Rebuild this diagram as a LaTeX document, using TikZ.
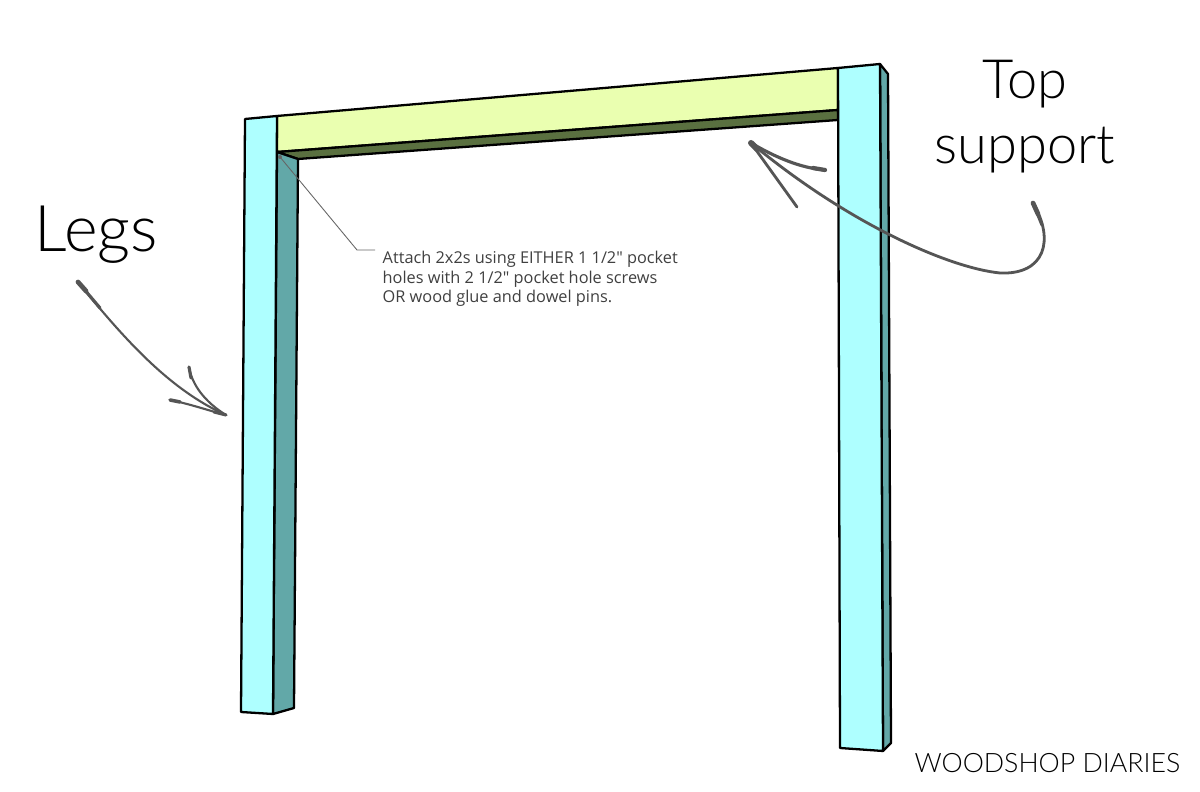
\documentclass[tikz,border=0pt]{standalone}
\usepackage{fontspec}
\newfontfamily\notefont{Open Sans}
\newfontfamily\lightfont[UprightFont=* Light]{Lato}
\usepackage{tikz}
\definecolor{legfront}{HTML}{AEFFFF}
\definecolor{legside}{HTML}{62A8A8}
\definecolor{beamfront}{HTML}{EAFFB0}
\definecolor{beamunder}{HTML}{5A7040}
\definecolor{inkgray}{HTML}{555555}
\tikzset{
        face/.style={draw=black,line width=0.65pt,line join=round},
        inkline/.style={draw=inkgray,line width=0.6pt,line cap=round},
        inkmid/.style={draw=inkgray,line width=0.9pt,line cap=round},
        inktip/.style={draw=inkgray,line width=1.35pt,line cap=round},
        bigtext/.style={inner sep=0pt,text=black},
}

\begin{document}
\begin{tikzpicture}[x=0.01cm,y=-0.01cm]
        \useasboundingbox (0,0) rectangle (1200,792);
        \fill[white] (0,0) rectangle (1200,792);
        \draw[face,fill=beamfront] (277,116) -- (838,68) -- (838,110) -- (277,152) -- cycle;
        \draw[face,fill=beamunder] (277,152) -- (838,110) -- (838,120) -- (298,159) -- cycle;
        \draw[face,fill=legside] (277,152) -- (298,159) -- (294,708) -- (273,714) -- cycle;
        \draw[face,fill=legfront] (245,119) -- (277,116) -- (273,714) -- (241,712) -- cycle;
        \draw[face,fill=legside] (880,64) -- (888,74) -- (891,743) -- (883,751) -- cycle;
        \draw[face,fill=legfront] (838,68) -- (880,64) -- (883,751) -- (840,748) -- cycle;

        \coordinate (leadstart) at (280,157);
        \coordinate (leadbend) at (357,250);
        \coordinate (leadend) at (375,250);
        \draw[black!60,line width=0.25pt] (leadstart) -- (leadbend) -- (leadend);
        \fill[black!60] (leadstart) circle (2);
        \node[anchor=base west,inner sep=0pt,align=left,text=black!75,
                font=\notefont\fontsize{4.64}{5.55}\selectfont] (note) at (382,303)
                {Attach 2x2s using EITHER 1 1/2" pocket\\holes with 2 1/2" pocket hole screws\\OR wood glue and dowel pins.};

        \node[bigtext,anchor=base west,font=\lightfont\fontsize{18.3}{20}\selectfont] (legs) at (34,252) {Legs};
        \node[bigtext,align=center,font=\lightfont\fontsize{15.4}{18.5}\selectfont] (top) at (1025,117) {Top\\support};
        \node[anchor=base east,inner sep=0pt,font=\lightfont\fontsize{7.6}{9}\selectfont] (brand) at (1181,773) {WOODSHOP DIARIES};

        \coordinate (legstail) at (78,282);
        \coordinate (legstip) at (226,415);
        \coordinate (legsbarba) at (189,367);
        \coordinate (legsbarbb) at (170,400);
        \draw[inkline] (legstail) .. controls (125,340) and (170,390) .. (legstip);
        \draw[inkmid] (legstail) -- (100,308);
        \draw[inktip] (legstail) -- (86,291);
        \draw[inkline] (legsbarba) .. controls (192,385) and (205,402) .. (legstip);
        \draw[inkmid] (legsbarba) -- (191,378);
        \draw[inkline] (legsbarbb) .. controls (190,404) and (210,411) .. (legstip);
        \draw[inktip,line width=1pt] (legsbarbb) -- (180,402);
        \draw[inkmid] (214,412) -- (legstip);

        \coordinate (toptail) at (1033,203);
        \coordinate (toptip) at (751,143);
        \coordinate (topbarba) at (825,170);
        \coordinate (topbarbb) at (797,207);
        \draw[inkline,line width=0.8pt] (toptail) .. controls (1055,240) and (1045,275) .. (1000,273)
                .. controls (950,268) and (850,225) .. (toptip);
        \draw[inkmid] (toptail) -- (1042,225);
        \draw[inktip] (toptail) -- (1038,214);
        \draw[inkline,line width=0.9pt] (toptip) .. controls (775,157) and (800,168) .. (topbarba);
        \draw[inktip,line width=1.2pt] (813,168) -- (topbarba);
        \draw[inkline,line width=0.8pt] (toptip) -- (topbarbb);
        \draw[inktip,line width=1.7pt] (toptip) -- (757,149);
\end{tikzpicture}
\end{document}
